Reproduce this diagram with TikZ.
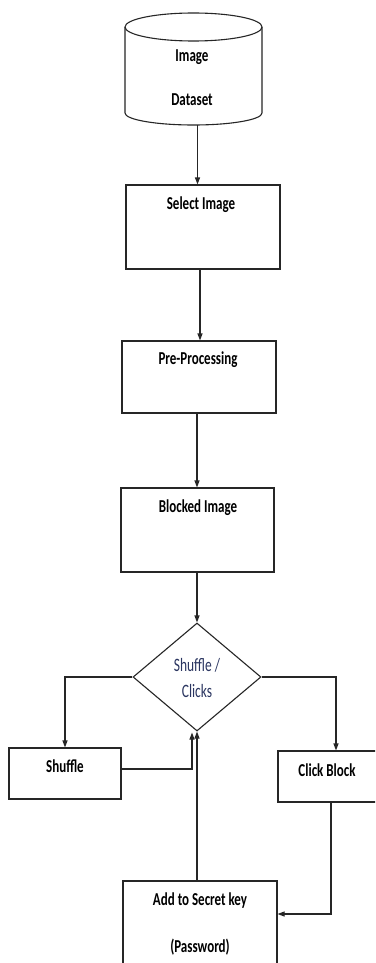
\documentclass[tikz,border=0pt]{standalone}
\usepackage{fontspec}
\setmainfont{Carlito}
\usepackage{graphicx}
\usetikzlibrary{arrows.meta,shapes.geometric,calc}
\newcommand\vs[1]{\scalebox{1}[1.4]{#1}}
\definecolor{diatext}{HTML}{2A3560}
\tikzset{
  x=1pt,y=1pt,
  ln/.style={line width=1.1pt, draw=black!85},
  box/.style={ln, rectangle, inner sep=0pt},
  arr/.style={ln, -{Triangle[length=7pt,width=5pt]}},
  txt/.style={font=\fontsize{13}{15}\selectfont\bfseries, inner sep=0pt, text=black},
  dtxt/.style={font=\fontsize{13.5}{15}\selectfont, inner sep=0pt, text=diatext},
}
\begin{document}
\begin{tikzpicture}
\clip (0,0) rectangle (375,-963);
\fill[white] (0,0) rectangle (375,-963);
% cylinder
\node[inner sep=0pt, minimum width=137pt, minimum height=112pt] (ds) at (193.5,-69) {};
\draw[ln] (125,-27) -- (125,-113) arc[start angle=180, end angle=360, x radius=68.5, y radius=12] -- (262,-27);
\draw[ln] (193.5,-27) ellipse[x radius=68.5, y radius=14];
\node[txt] (dsa) at (192,-57) {\vs{Image}};
\node[txt] (dsb) at (192,-100) {\vs{Dataset}};
% boxes
\node[box, minimum width=154pt, minimum height=84pt] (sel) at (203,-227) {};
\node[txt] (selt) at (201,-205) {\vs{Select Image}};
\node[box, minimum width=154pt, minimum height=72pt] (pre) at (199,-377) {};
\node[txt] (pret) at (198,-360) {\vs{Pre-Processing}};
\node[box, minimum width=153pt, minimum height=84pt] (blk) at (197.5,-530) {};
\node[txt] (blkt) at (198,-508) {\vs{Blocked Image}};
\node[ln, diamond, inner sep=0pt, minimum width=128pt, minimum height=108pt] (dia) at (197,-677) {};
\node[dtxt] (diaa) at (197,-665) {\vs{Shuffle /}};
\node[dtxt] (diab) at (197,-691) {\vs{Clicks}};
\node[box, minimum width=112pt, minimum height=51pt] (shf) at (65,-773.5) {};
\node[txt] (shft) at (65,-766) {\vs{Shuffle}};
\node[box, minimum width=102pt, minimum height=51pt] (clk) at (329,-776.5) {};
\node[txt] (clkt) at (327,-770) {\vs{Click Block}};
\node[box, minimum width=154pt, minimum height=119pt] (add) at (200,-940.5) {};
\node[txt] (adda) at (200,-901) {\vs{Add to Secret key}};
\node[txt] (addb) at (200,-947) {\vs{(Password)}};
% connectors
\draw[arr] ([xshift=4pt]ds.south) -- ([xshift=4pt]ds.south |- sel.north);
\draw[arr] ([xshift=-3pt]sel.south) -- ([xshift=-3pt]sel.south |- pre.north);
\draw[arr] ([xshift=-2pt]pre.south) -- ([xshift=-2pt]pre.south |- blk.north);
\draw[arr] (blk.south -| dia.north) -- (dia.north);
\draw[arr] (dia.west) -| (shf.north);
\draw[arr] (dia.east) -| ([xshift=7pt]clk.north);
\draw[arr] ([yshift=4.5pt]shf.east) -| ([xshift=-5pt,yshift=-1pt]dia.south);
\draw[arr] ([xshift=-3pt]add.north) -- ([xshift=-3pt]add.north |- dia.south);
\draw[arr] ([xshift=2pt]clk.south) |- ([yshift=26.5pt]add.east);
\end{tikzpicture}
\end{document}
